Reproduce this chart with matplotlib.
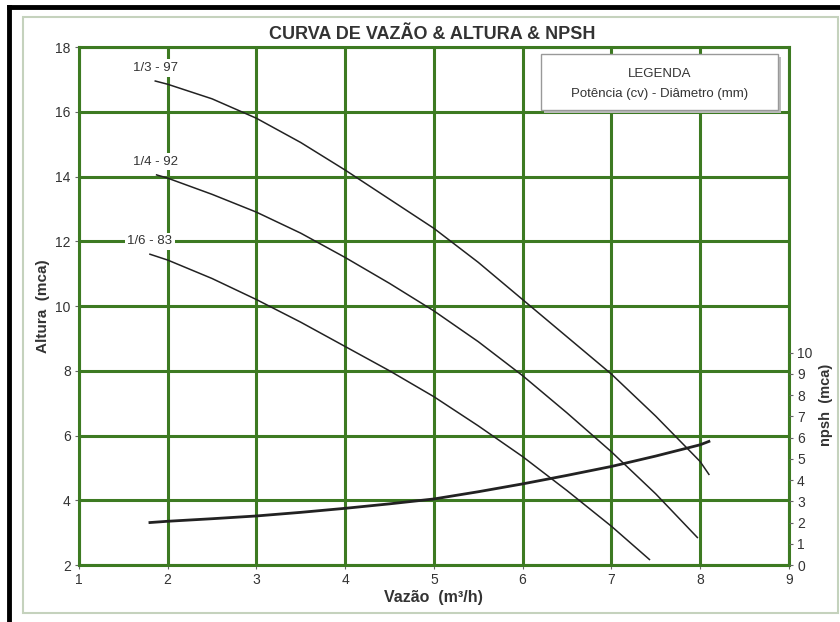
import numpy as np
import matplotlib.pyplot as plt
from matplotlib.patches import Rectangle
from matplotlib.lines import Line2D

plt.rcParams['font.family'] = ['Liberation Sans', 'DejaVu Sans']

# pump curves: Vazao (m3/h) vs Altura (mca)
vazao_97 = [1.86, 2.0, 2.5, 3.0, 3.5, 4.0, 4.5, 5.0, 5.5, 6.0, 6.5, 7.0, 7.5, 8.0, 8.1]
altura_97 = [16.95, 16.85, 16.4, 15.8, 15.05, 14.2, 13.3, 12.4, 11.35, 10.2, 9.05, 7.9, 6.6, 5.2, 4.8]

vazao_92 = [1.875, 2.0, 2.5, 3.0, 3.5, 4.0, 4.5, 5.0, 5.5, 6.0, 6.5, 7.0, 7.5, 7.97]
altura_92 = [14.05, 13.95, 13.45, 12.9, 12.25, 11.5, 10.7, 9.85, 8.9, 7.85, 6.7, 5.5, 4.2, 2.85]

vazao_83 = [1.8, 2.0, 2.5, 3.0, 3.5, 4.0, 4.5, 5.0, 5.5, 6.0, 6.5, 7.0, 7.43]
altura_83 = [11.6, 11.42, 10.85, 10.2, 9.5, 8.75, 8.0, 7.2, 6.3, 5.35, 4.3, 3.2, 2.17]

# NPSH curve (right axis)
vazao_npsh = [1.8, 2.0, 2.5, 3.0, 3.5, 4.0, 4.5, 5.0, 5.5, 6.0, 6.5, 7.0, 7.5, 8.0, 8.1]
npsh = [2.0, 2.06, 2.18, 2.31, 2.48, 2.67, 2.88, 3.11, 3.45, 3.82, 4.22, 4.64, 5.13, 5.66, 5.82]

curve_labels = ["1/3 - 97", "1/4 - 92", "1/6 - 83"]
x_ticks = [1, 2, 3, 4, 5, 6, 7, 8, 9]
y_ticks = [2, 4, 6, 8, 10, 12, 14, 16, 18]
npsh_ticks = [0, 1, 2, 3, 4, 5, 6, 7, 8, 9, 10]

green = '#3d7a22'
ink = '#222222'

fig = plt.figure(figsize=(8.4, 6.22), dpi=100)
ax = fig.add_axes([0.094, 0.0916, 0.845, 0.8328])

ax.plot(vazao_97, altura_97, color=ink, lw=1.1, zorder=3)
ax.plot(vazao_92, altura_92, color=ink, lw=1.1, zorder=3)
ax.plot(vazao_83, altura_83, color=ink, lw=1.1, zorder=3)

# curve labels with white background to cut the grid
label_pos = [(1.86, 17.35), (1.86, 14.46), (1.80, 12.0)]
for (lx, ly), txt in zip(label_pos, curve_labels):
    ax.text(lx, ly, txt, ha='center', va='center', fontsize=9.5, color='#333333',
            bbox=dict(facecolor='white', edgecolor='none', pad=2), zorder=4)

ax.set_xlim(1, 9)
ax.set_ylim(2, 18)
ax.set_xticks(x_ticks)
ax.set_yticks(y_ticks)
ax.grid(True, color=green, lw=2.2)
ax.set_axisbelow(True)
for s in ax.spines.values():
    s.set_color(green)
    s.set_linewidth(2.2)
ax.tick_params(length=3, width=0.8, color='#666666', labelsize=10, labelcolor='#333333', pad=3)

ax.set_xlabel("Vazão  (m³/h)", fontsize=11.5, fontweight='bold', color='#333333', labelpad=2)
ax.set_ylabel("Altura  (mca)", fontsize=11, fontweight='bold', color='#333333', labelpad=4)

# right axis for npsh: 0 at altura 2, 10 at altura ~8.56
ax2 = ax.twinx()
ax2.set_ylim(0, 24.39)
ax2.plot(vazao_npsh, npsh, color=ink, lw=2.0, zorder=3)
ax2.set_yticks(npsh_ticks)
for s in ax2.spines.values():
    s.set_visible(False)
ax2.tick_params(length=3, width=0.8, color='#666666', labelsize=10, labelcolor='#333333', pad=3)
fig.text(826 / 840, 1 - 405 / 622, "npsh  (mca)", rotation=90, ha='center', va='center',
         fontsize=10.5, fontweight='bold', color='#333333')

# legend box
ax2.add_patch(Rectangle((0.655, 0.872), 0.334, 0.108, transform=ax2.transAxes,
                        facecolor='#bbbbbb', edgecolor='none', zorder=5))
ax2.add_patch(Rectangle((0.651, 0.878), 0.334, 0.108, transform=ax2.transAxes,
                        facecolor='white', edgecolor='#999999', lw=1.0, zorder=6))
ax2.text(0.818, 0.948, "LEGENDA", transform=ax2.transAxes, ha='center', va='center',
         fontsize=9.5, color='#333333', zorder=7)
ax2.text(0.818, 0.910, "Potência (cv) - Diâmetro (mm)", transform=ax2.transAxes,
         ha='center', va='center', fontsize=9.5, color='#333333', zorder=7)

fig.text(0.515, 0.944, "CURVA DE VAZÃO & ALTURA & NPSH", ha='center', va='center',
         fontsize=13, fontweight='bold', color='#333333')

# frame around the chart
fig.add_artist(Rectangle((23 / 840, 1 - 613 / 622), 815 / 840, 596 / 622,
                         transform=fig.transFigure, facecolor='none',
                         edgecolor='#c5d2bd', lw=1.5))
fig.add_artist(Line2D([8.5 / 840, 8.5 / 840], [0, 1 - 6.5 / 622], transform=fig.transFigure,
                      color='black', lw=3.5))
fig.add_artist(Line2D([8.5 / 840, 1], [1 - 6.5 / 622, 1 - 6.5 / 622], transform=fig.transFigure,
                      color='black', lw=3.5))

fig.savefig("out.png", dpi=100)
